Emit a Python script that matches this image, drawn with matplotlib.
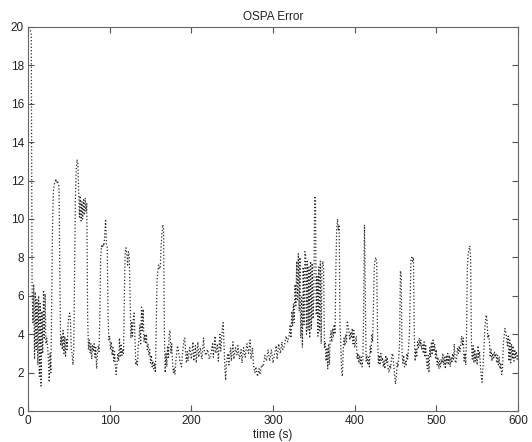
import matplotlib
matplotlib.use("Agg")
import matplotlib.pyplot as plt

t = [2, 4, 5, 6, 7, 8, 9, 10, 11, 12, 13, 14, 15, 16, 17, 18, 19, 20, 21, 22, 23, 24, 25, 26, 27, 28,
     29, 30, 31, 32, 33, 34, 35, 36, 37, 38, 39, 40, 41, 42, 43, 44, 45, 46, 47, 48, 49, 50, 51, 52,
     53, 54, 55, 56, 57, 58, 59, 60, 61, 62, 63, 64, 65, 66, 67, 68, 69, 70, 71, 72, 73, 74, 75, 76,
     77, 78, 79, 80, 81, 82, 83, 84, 85, 86, 87, 88, 89, 90, 91, 92, 93, 94, 95, 96, 97, 98, 99, 100,
     101, 102, 103, 104, 105, 106, 107, 108, 109, 110, 111, 112, 113, 114, 115, 116, 117, 118, 119,
     120, 121, 122, 123, 124, 125, 126, 127, 128, 129, 130, 131, 132, 133, 134, 135, 136, 137, 138,
     139, 140, 141, 142, 143, 144, 145, 146, 147, 148, 149, 150, 151, 152, 153, 154, 155, 156, 157,
     158, 159, 160, 161, 162, 163, 164, 165, 166, 167, 168, 169, 170, 171, 172, 173, 174, 175, 176,
     177, 178, 179, 180, 181, 182, 183, 184, 185, 186, 187, 188, 189, 190, 191, 192, 193, 194, 195,
     196, 198, 200, 202, 203, 205, 206, 208, 209, 211, 213, 215, 216, 218, 220, 222, 224, 226, 227,
     229, 230, 232, 233, 235, 236, 238, 239, 240, 241, 242, 243, 245, 246, 248, 249, 251, 252, 254,
     256, 257, 259, 261, 262, 264, 266, 268, 270, 272, 273, 275, 276, 278, 279, 281, 283, 284, 286,
     288, 290, 292, 294, 296, 298, 300, 302, 304, 305, 307, 309, 311, 312, 314, 316, 318, 320, 321,
     322, 323, 324, 325, 326, 327, 328, 329, 330, 331, 332, 333, 334, 335, 336, 337, 338, 339, 340,
     341, 342, 343, 344, 345, 346, 347, 348, 349, 350, 351, 352, 353, 354, 355, 356, 357, 358, 359,
     360, 361, 362, 363, 364, 365, 366, 367, 368, 369, 370, 371, 372, 373, 374, 375, 376, 377, 378,
     379, 380, 381, 382, 383, 384, 385, 386, 387, 388, 389, 390, 391, 392, 393, 394, 395, 396, 397,
     398, 399, 400, 402, 403, 404, 405, 406, 407, 408, 409, 410, 411, 412, 413, 414, 415, 416, 417,
     418, 419, 420, 421, 422, 423, 424, 425, 426, 427, 428, 429, 430, 431, 432, 433, 434, 435, 436,
     437, 438, 439, 440, 441, 442, 443, 444, 445, 446, 447, 448, 449, 450, 451, 452, 453, 454, 455,
     456, 457, 458, 459, 460, 461, 462, 463, 464, 465, 466, 467, 468, 469, 470, 471, 472, 473, 474,
     475, 476, 477, 478, 479, 480, 481, 482, 483, 484, 485, 486, 487, 488, 489, 490, 491, 492, 493,
     494, 495, 496, 497, 498, 499, 500, 501, 502, 503, 504, 505, 506, 507, 508, 509, 510, 511, 512,
     513, 514, 515, 516, 517, 518, 519, 520, 521, 522, 523, 524, 525, 526, 527, 528, 529, 530, 531,
     532, 533, 534, 535, 536, 537, 538, 539, 540, 541, 542, 543, 544, 545, 546, 547, 548, 549, 550,
     551, 552, 553, 554, 555, 556, 557, 558, 559, 560, 561, 562, 563, 564, 565, 566, 567, 568, 569,
     570, 571, 572, 573, 574, 575, 576, 577, 578, 579, 580, 581, 582, 583, 584, 585, 586, 587, 588,
     589, 590, 591, 592, 593, 594, 595, 596, 597, 598, 599, 600]

ospa = [20, 19.6, 6.4, 4.6, 6.6, 2.7, 6.2, 3.2, 5.8, 2.4, 6.0, 1.8, 5.6, 1.3, 5.2, 3.0, 6.3, 3.8, 6.1,
        3.5, 3.8, 3.4, 2.6, 1.5, 3.0, 2.0,
        5.5, 9.5, 11.4, 11.8, 11.9, 12.1, 11.9, 12.0, 11.8, 11.7, 7.0, 3.4, 3.9, 3.2, 4.2, 3.0, 3.9,
        2.8, 3.8, 3.2, 4.5, 4.9, 5.1, 4.7,
        3.2, 3.0, 2.4, 3.1, 7.0, 11.0, 12.6, 13.1, 12.9, 11.5, 10.1, 11.2, 9.9, 10.9, 10.0, 11.0, 10.2,
        11.1, 10.4, 10.8, 5.0, 3.2, 3.7, 3.0,
        3.5, 2.7, 3.4, 3.1, 3.5, 2.8, 3.3, 2.2, 3.0, 3.4, 3.1, 5.0, 8.0, 8.6, 8.5, 8.7, 8.6, 9.2, 10.0,
        8.7, 8.6, 5.0, 3.7, 3.9,
        3.2, 3.6, 2.9, 3.3, 2.6, 3.1, 2.3, 1.9, 2.5, 3.0, 2.6, 3.8, 2.8, 3.5, 2.9, 3.2, 3.0, 6.0, 8.3,
        8.5, 8.2, 7.6, 8.3, 8.1, 6.0, 3.8, 4.6, 3.9, 4.8, 5.1, 3.8, 2.4, 2.6, 2.4, 3.4, 3.8, 4.5, 3.5,
        5.4, 4.2, 5.3, 3.6, 4.0, 3.5, 4.0, 3.2, 3.5, 2.9, 3.2, 2.5, 2.9, 2.3, 2.6, 2.2, 2.5, 2.0, 4.5,
        6.8, 7.3, 7.6, 7.4, 7.5, 8.6, 9.2, 9.7, 9.5, 4.0, 2.0, 3.0, 2.3, 3.4, 2.8, 4.1, 4.2, 3.0, 3.5,
        2.5, 2.0, 2.2, 1.9, 2.6, 3.0, 3.4, 3.2, 2.9, 2.6, 2.4, 2.3, 2.9, 3.3, 3.7, 3.8, 3.0, 2.5, 3.1,
        2.6, 3.3, 2.7, 3.6, 2.6, 3.4, 2.5, 3.6, 2.8, 3.3, 2.7, 3.8, 3.1, 2.9, 3.2, 2.7, 3.0, 3.5, 2.8,
        3.9, 3.0, 3.5, 2.6, 4.0, 3.1, 4.3, 4.6, 3.5, 2.3, 1.6, 2.5, 3.0, 2.4, 3.3, 2.6, 3.6, 2.7, 3.3,
        2.9, 3.4, 2.7, 3.2, 2.5, 3.3, 2.8, 3.5, 3.0, 3.7, 2.7, 3.3, 2.4, 2.0, 2.3, 1.8, 2.2, 1.9, 2.4,
        2.3, 2.9, 2.6, 3.2, 2.6, 3.2, 2.5, 3.0, 3.4, 2.7, 3.5, 3.0, 3.6, 3.2, 3.4, 3.9, 3.6, 4.0, 4.5,
        3.8, 5.2, 4.4, 5.6, 4.6, 6.6, 5.5, 7.8, 5.8, 8.2, 5.2, 8.0, 3.8, 6.0, 3.3, 7.5, 4.5, 8.3, 8.1,
        4.0, 7.8, 4.2, 7.5, 3.8, 7.8, 4.3, 7.7, 4.8, 6.0, 11.2, 11.0, 5.0, 7.0, 3.9, 7.5, 4.2, 7.8, 3.5,
        7.4, 7.8, 7.4, 3.3, 3.6, 2.6, 3.3, 2.2, 3.5, 2.4, 3.8, 4.2, 3.6, 4.3, 3.9, 4.5, 4.0, 7.5, 9.5,
        10.0, 9.4, 9.7, 4.5, 3.5, 2.0, 1.8, 3.2, 3.8, 3.4, 4.0, 3.6, 4.7, 4.4, 4.2, 3.7, 4.1, 3.8, 4.3,
        3.5, 4.2, 3.3, 3.9, 2.7, 3.0, 2.5, 2.9, 2.4, 2.8, 2.3, 2.6, 5.0, 9.7, 6.0, 2.6, 2.9, 2.4, 2.8,
        2.3, 3.4, 3.0, 4.0, 3.6, 5.5, 7.5, 7.9, 8.0, 7.7, 4.0, 2.5, 2.9, 2.4, 3.0, 2.6, 2.8, 2.3, 2.6,
        2.2, 2.9, 2.5, 2.8, 2.2, 2.0, 2.4, 2.2, 2.7, 3.0, 2.8, 2.3, 1.9, 1.4, 1.8, 2.5, 2.3, 2.8, 3.5,
        7.3, 7.1, 3.0, 2.5, 2.9, 2.3, 2.6, 2.4, 3.0, 2.7, 3.3, 4.0, 6.0, 7.9, 8.0, 7.8, 8.0, 4.0, 2.6,
        3.2, 2.8, 3.6, 3.3, 3.8, 3.4, 3.7, 3.2, 3.5, 3.0, 3.6, 2.8, 3.4, 2.6, 2.2, 2.9, 2.0, 3.3, 2.8,
        3.6, 3.0, 3.7, 3.1, 3.5, 2.7, 3.2, 2.4, 2.8, 2.2, 2.6, 2.3, 2.7, 2.5, 3.0, 2.4, 2.8, 2.2, 2.9,
        2.5, 3.0, 2.4, 2.9, 2.3, 2.8, 2.5, 3.0, 2.7, 3.5, 2.6, 2.5, 2.8, 3.3, 3.0, 3.4, 3.1, 3.5, 3.9,
        3.4, 3.8, 2.6, 3.0, 2.4, 4.0, 7.5, 8.2, 8.4, 8.6, 8.0, 3.5, 2.7, 3.4, 2.5, 3.2, 2.6, 3.0, 2.4,
        3.4, 2.8, 3.1, 2.3, 1.8, 1.5, 2.2, 3.0, 4.0, 4.6, 5.0, 4.8, 3.8, 4.0, 3.6, 2.8, 3.2, 2.6,
        3.0, 2.7, 3.1, 2.8, 3.0, 2.5, 2.9, 2.4, 2.8, 2.2, 2.5, 1.9, 2.1, 3.5, 3.9, 4.3, 4.1, 3.8, 3.4,
        3.9, 2.6, 3.7, 2.5, 3.5, 2.7, 3.4, 2.6, 3.2, 2.8, 3.1, 2.7, 2.9]

xticks = [0, 100, 200, 300, 400, 500, 600]
yticks = [0, 2, 4, 6, 8, 10, 12, 14, 16, 18, 20]

plt.rcParams['font.family'] = ['Liberation Sans', 'DejaVu Sans']

fig = plt.figure(figsize=(5.32, 4.42), dpi=100)
ax = fig.add_axes([28 / 532, 1 - 411 / 442, 490 / 532, 384 / 442])
ax.plot(t, ospa, linestyle=':', color='#2a2a2a', linewidth=0.9)
ax.set_xlim(0, 600)
ax.set_ylim(0, 20)
ax.set_xticks(xticks)
ax.set_yticks(yticks)
ax.tick_params(direction='in', top=True, right=True, length=4, labelsize=8.5,
               color='#555555', labelcolor='#222222', pad=3)
for s in ax.spines.values():
    s.set_color('#666666')
    s.set_linewidth(0.8)
ax.set_title('OSPA Error', fontsize=8.5, color='#222222', pad=5)
ax.set_xlabel('time (s)', fontsize=8.5, color='#222222', labelpad=1)
fig.savefig('out.png', dpi=100)
